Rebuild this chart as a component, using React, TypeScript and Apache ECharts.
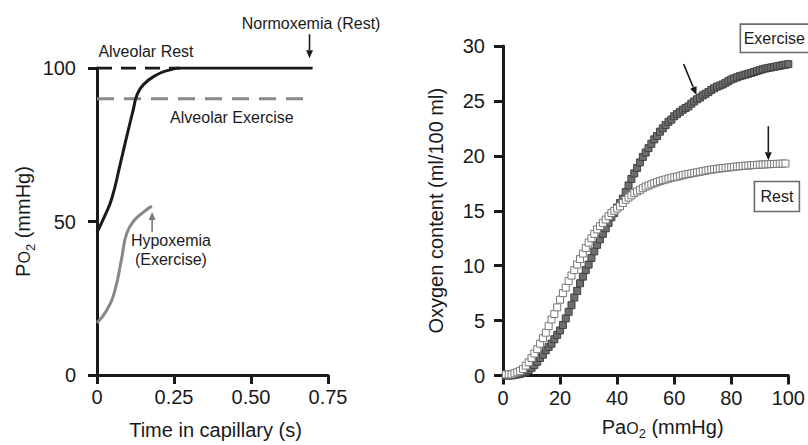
import React, { useEffect, useRef } from "react";
import * as echarts from "echarts";

// ---------- Left panel: PO2 along the capillary ----------
const capillaryTimeRest = [0, 0.026, 0.048, 0.075, 0.096, 0.118, 0.129, 0.15, 0.194, 0.237, 0.27, 0.7];
const po2Rest = [46.5, 52, 57.5, 68.5, 77.5, 86.5, 91, 94.5, 97.8, 99.4, 100, 100];
const capillaryTimeExercise = [0, 0.031, 0.058, 0.08, 0.096, 0.118, 0.15, 0.178];
const po2Exercise = [17, 21, 27.5, 38, 46, 50, 53, 55];
const alveolarRestTime = [0, 0.27];
const alveolarRestPO2 = [100, 100];
const alveolarExerciseTime = [0, 0.68];
const alveolarExercisePO2 = [90, 90];
const leftXTickLabels = ["0", "0.25", "0.50", "0.75"];

// ---------- Right panel: oxygen content curves ----------
const pao2 = [
  1, 2, 3, 4, 5, 6, 7, 8, 9, 10, 11, 12, 13, 14, 15, 16, 17, 18, 19, 20,
  21, 22, 23, 24, 25, 26, 27, 28, 29, 30, 31, 32, 33, 34, 35, 36, 37, 38, 39, 40,
  41, 42, 43, 44, 45, 46, 47, 48, 49, 50, 51, 52, 53, 54, 55, 56, 57, 58, 59, 60,
  61, 62, 63, 64, 65, 66, 67, 68, 69, 70, 71, 72, 73, 74, 75, 76, 77, 78, 79, 80,
  81, 82, 83, 84, 85, 86, 87, 88, 89, 90, 91, 92, 93, 94, 95, 96, 97, 98, 99, 100,
];
const contentRest = [
  0.1, 0.1, 0.1, 0.2, 0.3, 0.4, 0.6, 0.9, 1.2, 1.6, 2.0, 2.4, 2.9, 3.4, 3.9, 4.5, 5.1, 5.6, 6.2, 6.9,
  7.5, 8.0, 8.6, 9.1, 9.6, 10.1, 10.6, 11.1, 11.6, 12.1, 12.5, 12.9, 13.3, 13.6, 13.9, 14.2, 14.5, 14.8, 15.0, 15.2,
  15.4, 15.7, 16.0, 16.2, 16.4, 16.6, 16.75, 16.9, 17.05, 17.2, 17.3, 17.4, 17.5, 17.6, 17.7, 17.78, 17.85, 17.92, 18.0, 18.05,
  18.1, 18.18, 18.24, 18.3, 18.35, 18.4, 18.45, 18.5, 18.55, 18.6, 18.65, 18.7, 18.74, 18.78, 18.82, 18.85, 18.88, 18.91, 18.94, 18.97,
  19.0, 19.03, 19.05, 19.08, 19.1, 19.12, 19.14, 19.16, 19.18, 19.2, 19.21, 19.22, 19.24, 19.25, 19.26, 19.27, 19.28, 19.29, 19.3,
];
const contentExercise = [
  0.0, 0.0, 0.0, 0.05, 0.1, 0.15, 0.25, 0.35, 0.5, 0.7, 0.95, 1.25, 1.6, 1.9, 2.3, 2.6, 2.9, 3.3, 3.7, 4.1,
  4.6, 5.2, 5.8, 6.4, 7.1, 7.7, 8.4, 9.0, 9.6, 10.1, 10.7, 11.3, 11.9, 12.4, 12.9, 13.4, 13.9, 14.4, 14.8, 15.3,
  15.7, 16.1, 16.7, 17.3, 17.9, 18.4, 18.9, 19.4, 19.9, 20.3, 20.7, 21.1, 21.5, 21.8, 22.2, 22.5, 22.8, 23.1, 23.3, 23.6,
  23.8, 24.0, 24.2, 24.35, 24.5, 24.75, 24.95, 25.15, 25.3, 25.5, 25.65, 25.8, 26.0, 26.15, 26.3, 26.4, 26.5, 26.65, 26.8, 26.95,
  27.05, 27.15, 27.25, 27.32, 27.4, 27.47, 27.55, 27.63, 27.72, 27.8, 27.88, 27.95, 28.0, 28.05, 28.1, 28.15, 28.2, 28.25, 28.3, 28.35,
];

const FONT = "'Liberation Sans', Arial, Helvetica, sans-serif";
const INK = "#1a1a1a";
const GREY = "#888888";

const zip = (xs: number[], ys: number[]) => ys.map((y, i) => [xs[i], y]);

export default function App() {
  const ref = useRef<HTMLDivElement>(null);

  useEffect(() => {
    const chart = echarts.init(ref.current!, null, { renderer: "svg" });

    const axisLine = { show: true, onZero: false, lineStyle: { color: INK, width: 3 } };
    const axisTick = { show: true, length: 9, lineStyle: { color: INK, width: 3 } };
    const label = (margin: number) => ({ margin, fontSize: 20, color: INK, fontFamily: FONT });
    // subscript layout: every token bottom-aligned; main text lifted by bottom padding
    const subRich = {
      n: { fontSize: 20, verticalAlign: "bottom", padding: [0, 0, 4, 0], color: INK, fontFamily: FONT },
      o: { fontSize: 16, verticalAlign: "bottom", padding: [0, 0, 4.5, 0], color: INK, fontFamily: FONT },
      s: { fontSize: 13, verticalAlign: "bottom", padding: [0, 0, 0.5, 0], color: INK, fontFamily: FONT },
    };

    chart.setOption({
      animation: false,
      textStyle: { fontFamily: FONT },
      grid: [
        { left: 97, top: 68, width: 231, height: 309 },
        { left: 503, top: 46, width: 286, height: 331.3 },
      ],
      xAxis: [
        {
          gridIndex: 0, type: "value", min: 0, max: 0.75, interval: 0.25,
          axisLine, axisTick, splitLine: { show: false },
          axisLabel: { ...label(12), formatter: (v: number) => leftXTickLabels[Math.round(v / 0.25)] },
          name: "Time in capillary (s)", nameLocation: "middle", nameGap: 45,
          nameTextStyle: { fontSize: 20, color: INK, fontFamily: FONT, padding: [0, 0, 0, 6] },
        },
        {
          gridIndex: 1, type: "value", min: 0, max: 100, interval: 20,
          axisLine, axisTick, splitLine: { show: false },
          axisLabel: label(12),
          name: "{n|Pa}{o|O}{s|2}{n| (mmHg)}", nameLocation: "middle", nameGap: 41,
          nameTextStyle: { rich: subRich, padding: [0, 0, 0, 34] },
        },
      ],
      yAxis: [
        {
          gridIndex: 0, type: "value", min: 0, max: 100, interval: 50,
          axisLine, axisTick, splitLine: { show: false },
          axisLabel: label(21),
          name: "{n|P}{o|O}{s|2}{n| (mmHg)}", nameLocation: "middle", nameGap: 60,
          nameTextStyle: { rich: subRich },
        },
        {
          gridIndex: 1, type: "value", min: 0, max: 30, interval: 5,
          axisLine, axisTick, splitLine: { show: false },
          axisLabel: label(18),
          name: "Oxygen content (ml/100 ml)", nameLocation: "middle", nameGap: 57,
          nameTextStyle: { fontSize: 20, color: INK, fontFamily: FONT },
        },
      ],
      series: [
        {
          type: "line", xAxisIndex: 0, yAxisIndex: 0, silent: true, showSymbol: false,
          data: zip(alveolarExerciseTime, alveolarExercisePO2),
          lineStyle: { color: GREY, width: 3, type: [17, 10] },
        },
        {
          type: "line", xAxisIndex: 0, yAxisIndex: 0, silent: true, showSymbol: false,
          data: zip(alveolarRestTime, alveolarRestPO2),
          lineStyle: { color: INK, width: 3, type: [15, 9] },
        },
        {
          type: "line", xAxisIndex: 0, yAxisIndex: 0, silent: true, showSymbol: false,
          smooth: 0.5,
          data: zip(capillaryTimeExercise, po2Exercise),
          lineStyle: { color: GREY, width: 3 },
        },
        {
          type: "line", xAxisIndex: 0, yAxisIndex: 0, silent: true, showSymbol: false,
          smooth: 0.5,
          data: zip(capillaryTimeRest, po2Rest),
          lineStyle: { color: INK, width: 3 },
        },
        {
          type: "scatter", xAxisIndex: 1, yAxisIndex: 1, silent: true,
          symbol: "rect", symbolSize: 7,
          data: zip(pao2, contentExercise),
          itemStyle: { color: "#6e6e6e", borderColor: "#404040", borderWidth: 1, opacity: 1 },
        },
        {
          type: "scatter", xAxisIndex: 1, yAxisIndex: 1, silent: true,
          symbol: "rect", symbolSize: 7,
          data: zip(pao2, contentRest),
          itemStyle: { color: "#ffffff", borderColor: "#777777", borderWidth: 1, opacity: 1 },
        },
      ],
    });

    const L = (t: number, v: number) => chart.convertToPixel({ gridIndex: 0 } as any, [t, v]) as number[];
    const R = (m: number, c: number) => chart.convertToPixel({ gridIndex: 1 } as any, [m, c]) as number[];

    const arrow = (a: number[], b: number[], color: string) => {
      const dx = b[0] - a[0];
      const dy = b[1] - a[1];
      const len = Math.hypot(dx, dy);
      const ux = dx / len;
      const uy = dy / len;
      const hl = 8;
      const hw = 3.5;
      const bx = b[0] - ux * hl;
      const by = b[1] - uy * hl;
      return [
        { type: "line", silent: true, shape: { x1: a[0], y1: a[1], x2: bx, y2: by }, style: { stroke: color, lineWidth: 1.6 } },
        {
          type: "polygon", silent: true,
          shape: { points: [[b[0], b[1]], [bx - uy * hw, by + ux * hw], [bx + uy * hw, by - ux * hw]] },
          style: { fill: color },
        },
      ];
    };

    const text = (p: number[], s: string, color = INK) => ({
      type: "text", silent: true, x: p[0], y: p[1],
      style: {
        text: s, fill: color, fontSize: 16, fontFamily: FONT, lineHeight: 19,
        align: "center", verticalAlign: "middle", textAlign: "center", textVerticalAlign: "middle",
      },
    });

    const box = (p: number[], left: number, w: number, h: number, s: string) => [
      {
        type: "rect", silent: true,
        shape: { x: p[0] - left, y: p[1] - h / 2, width: w, height: h },
        style: { fill: "#fff", stroke: "#6a6a6a", lineWidth: 1.6 },
      },
      text(p, s),
    ];

    const exBoxC = R(95.1, 30.7);
    const restBoxC = R(96, 16.3);

    chart.setOption({
      graphic: {
        elements: [
          text(L(0.695, 114.6), "Normoxemia (Rest)"),
          ...arrow(L(0.69, 111), L(0.69, 103.2), INK),
          text(L(0.159, 105.5), "Alveolar Rest"),
          text(L(0.438, 83.8), "Alveolar Exercise"),
          text(L(0.24, 40.6), "Hypoxemia\n(Exercise)"),
          ...arrow(L(0.179, 46.6), L(0.179, 53.1), "#7a7a7a"),
          ...box(exBoxC, 34, 76, 28.4, "Exercise"),
          ...box(restBoxC, 22.5, 45, 30, "Rest"),
          ...arrow(R(63.3, 28.35), R(67.8, 25.55), INK),
          ...arrow(R(93, 22.7), R(93, 19.6), INK),
        ],
      },
    });

    return () => chart.dispose();
  }, []);

  return (
    <div
      ref={ref}
      style={{ position: "fixed", left: 0, top: 0, width: 808, height: 445, background: "#fff" }}
    />
  );
}
